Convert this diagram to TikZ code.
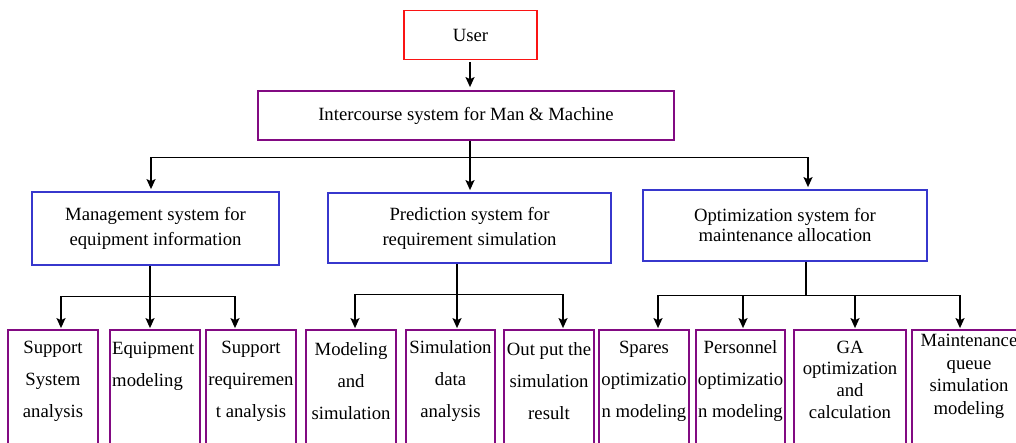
\documentclass[tikz,border=0pt]{standalone}
\usepackage{fontspec}
\setmainfont{Liberation Serif}
\usetikzlibrary{arrows.meta}
\definecolor{boxred}{RGB}{250,20,20}
\definecolor{boxpurple}{RGB}{130,10,130}
\definecolor{boxblue}{RGB}{55,55,205}
\begin{document}
\begin{tikzpicture}[x=1pt,y=-1pt,
  box/.style={draw, line width=1.8pt, inner sep=0pt, align=center,
    font=\fontsize{18.7}{25}\selectfont},
  leaf/.style={draw=boxpurple, line width=1.8pt, inner sep=0pt, minimum height=140},
  lbl/.style={inner sep=0pt, align=center, font=\fontsize{18.7}{32}\selectfont},
  arr/.style={line width=1.5pt, -{Stealth[length=10pt,width=9pt,inset=2pt]}},
  vline/.style={line width=1.5pt},
  hline/.style={line width=1pt}]
\useasboundingbox (0,0) rectangle (1016,442);

% top levels
\node[box, draw=boxred, minimum width=133, minimum height=49] (user) at (470.5,35) {User};
\node[box, draw=boxpurple, minimum width=416, minimum height=49] (inter) at (466,115.5)
  {Intercourse system for Man \& Machine};

% subsystems
\node[box, draw=boxblue, minimum width=247, minimum height=73] (mgmt) at (155.5,228.5)
  {Management system for\\equipment information};
\node[box, draw=boxblue, minimum width=283, minimum height=70] (pred) at (469.5,228)
  {Prediction system for\\requirement simulation};
\node[box, draw=boxblue, minimum width=284, minimum height=71,
  font=\fontsize{18.7}{20}\selectfont] (opt) at (785,225.5)
  {Optimization system for\\maintenance allocation};

% leaf boxes
\node[leaf, minimum width=90]  (b1)  at (53,400) {};
\node[leaf, minimum width=90]  (b2)  at (155,400) {};
\node[leaf, minimum width=90]  (b3)  at (251,400) {};
\node[leaf, minimum width=90]  (b4)  at (351,400) {};
\node[leaf, minimum width=89]  (b5)  at (450.5,400) {};
\node[leaf, minimum width=90]  (b6)  at (549,400) {};
\node[leaf, minimum width=90]  (b7)  at (644,400) {};
\node[leaf, minimum width=89]  (b8)  at (740.5,400) {};
\node[leaf, minimum width=112] (b9)  at (850,400) {};
\node[leaf, minimum width=118] (b10) at (971,400) {};

% leaf texts
\node[lbl] (t1) at (53,381.5) {Support\\System\\analysis};
\node[lbl, align=left, anchor=west] (t2) at (112,366) {Equipment\\modeling};
\node[lbl] (t3) at (251,381.5) {Support\\requiremen\\t analysis};
\node[lbl] (t4) at (351,381.5) {Modeling\\and\\simulation};
\node[lbl] (t5) at (450.5,381.5) {Simulation\\data\\analysis};
\node[lbl] (t6) at (549,381.5) {Out put the\\simulation\\result};
\node[lbl] (t7) at (644,381.5) {Spares\\optimizatio\\n modeling};
\node[lbl] (t8) at (740.5,381.5) {Personnel\\optimizatio\\n modeling};
\node[lbl, font=\fontsize{18.7}{21.7}\selectfont] (t9) at (850,379.5)
  {GA\\optimization\\and\\calculation};
\node[lbl, font=\fontsize{18.7}{22.5}\selectfont] (t10) at (969,376.5)
  {Maintenance\\queue\\simulation\\modeling};

% branching points
\coordinate (hub) at (470,157);
\coordinate (hl) at (151,157);
\coordinate (hr) at (808,157);
\coordinate (mhub) at (150,296);
\coordinate (ml) at (61,296);
\coordinate (mr) at (235,296);
\coordinate (phub) at (457,294);
\coordinate (pl) at (355,294);
\coordinate (pr) at (563,294);
\coordinate (ohub) at (806,295);
\coordinate (o1) at (658,295);
\coordinate (o2) at (743,295);
\coordinate (o3) at (855,295);
\coordinate (o4) at (960,295);

% user to interface
\draw[arr, shorten <=2pt, shorten >=3pt] (user.south -| hub) -- (hub |- inter.north);

% interface to subsystems
\draw[vline] (inter.south -| hub) -- (hub);
\draw[hline] (hl) -- (hr);
\draw[arr, shorten >=2pt] (hl) -- (hl |- mgmt.north);
\draw[arr, shorten >=2pt] (hub) -- (hub |- pred.north);
\draw[arr, shorten >=2pt] (hr) -- (hr |- opt.north);

% management branch
\draw[arr, shorten >=1pt] (mhub |- mgmt.south) -- (mhub |- b2.north);
\draw[hline] (ml) -- (mr);
\draw[arr, shorten >=1pt] (ml) -- (ml |- b1.north);
\draw[arr, shorten >=1pt] (mr) -- (mr |- b3.north);

% prediction branch
\draw[arr, shorten >=1pt] (phub |- pred.south) -- (phub |- b5.north);
\draw[hline] (pl) -- (pr);
\draw[arr, shorten >=1pt] (pl) -- (pl |- b4.north);
\draw[arr, shorten >=1pt] (pr) -- (pr |- b6.north);

% optimization branch
\draw[vline] (ohub |- opt.south) -- (ohub);
\draw[hline] (o1) -- (o4);
\draw[arr, shorten >=1pt] (o1) -- (o1 |- b7.north);
\draw[arr, shorten >=1pt] (o2) -- (o2 |- b8.north);
\draw[arr, shorten >=1pt] (o3) -- (o3 |- b9.north);
\draw[arr, shorten >=1pt] (o4) -- (o4 |- b10.north);
\end{tikzpicture}
\end{document}
